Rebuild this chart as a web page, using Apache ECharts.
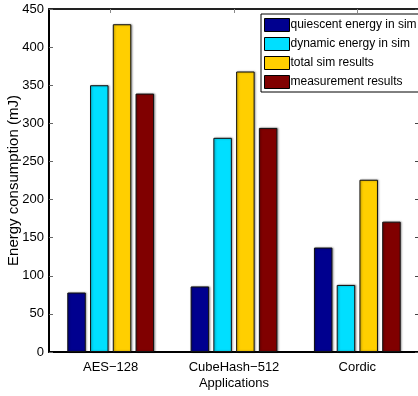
<!DOCTYPE html>
<html><head><meta charset="utf-8">
<script src="https://cdn.jsdelivr.net/npm/echarts@6/dist/echarts.min.js"></script>
<style>html,body{margin:0;padding:0;background:#fff}#c{width:418px;height:396px}</style>
</head><body><div id="c"></div>
<script>
const categories = ['AES\u2212128', 'CubeHash\u2212512', 'Cordic'];
const seriesNames = ['quiescent energy in sim', 'dynamic energy in sim', 'total sim results', 'measurement results'];
const quiescent = [78, 86, 137];
const dynamic = [350, 281, 88];
const totalSim = [430, 368, 226];
const measured = [339, 294, 171];
const yTicks = [0, 50, 100, 150, 200, 250, 300, 350, 400, 450];

const colors = ['#00008F', '#00DFFF', '#FFCF00', '#800000'];
const values = [quiescent, dynamic, totalSim, measured];
const font = 'Liberation Sans, Arial, sans-serif';

const chart = echarts.init(document.getElementById('c'));
chart.setOption({
  animation: false,
  textStyle: {fontFamily: font},
  legend: {
    left: 261, top: 14, width: 156,
    orient: 'vertical',
    itemWidth: 25, itemHeight: 13, itemGap: 5,
    padding: [4, 2, 3, 3],
    borderColor: '#000', borderWidth: 1, backgroundColor: '#fff',
    icon: 'rect',
    itemStyle: {borderColor: '#000', borderWidth: 1, shadowBlur: 0, shadowOffsetX: 0},
    textStyle: {fontSize: 12, color: '#000', fontFamily: font, lineHeight: 13, padding: [0, 0, 0, -4]},
    data: seriesNames
  },
  grid: {left: 49, top: 9, width: 370, height: 343, outerBoundsMode: 'none', containLabel: false},
  xAxis: [{
    type: 'category', data: categories, position: 'bottom',
    axisLine: {onZero: false, lineStyle: {color: '#000', width: 2}},
    axisTick: {inside: true, alignWithLabel: true, length: 4, lineStyle: {color: '#888'}},
    axisLabel: {fontSize: 13, color: '#000', margin: 9, fontFamily: font},
    name: 'Applications', nameLocation: 'middle', nameGap: 25, nameMoveOverlap: false,
    nameTextStyle: {fontSize: 13, color: '#000', fontFamily: font}
  }, {
    type: 'category', data: categories, position: 'top',
    axisLine: {show: true, onZero: false, lineStyle: {color: '#222', width: 2}},
    axisTick: {show: true, inside: true, alignWithLabel: true, length: 4, lineStyle: {color: '#888'}},
    axisLabel: {show: false}
  }],
  yAxis: [{
    type: 'value', min: 0, max: 450, interval: 50, position: 'left',
    axisLine: {show: true, onZero: false, lineStyle: {color: '#000', width: 2}},
    axisTick: {show: true, inside: true, length: 4, lineStyle: {color: '#666'}},
    splitLine: {show: false},
    axisLabel: {fontSize: 13, color: '#000', margin: 5, fontFamily: font,
      formatter: v => yTicks.includes(v) ? String(v) : ''},
    name: 'Energy consumption (mJ)', nameLocation: 'middle', nameGap: 28, nameMoveOverlap: false,
    nameTextStyle: {fontSize: 15, color: '#000', fontFamily: font}
  }, {
    type: 'value', min: 0, max: 450, interval: 50, position: 'right',
    axisLine: {show: true, onZero: false, lineStyle: {color: '#000', width: 2}},
    axisTick: {show: true, inside: true, length: 4, lineStyle: {color: '#444'}},
    splitLine: {show: false},
    axisLabel: {show: false}
  }],
  series: seriesNames.map((n, i) => ({
    name: n, type: 'bar', data: values[i],
    barWidth: 18.5, barGap: '23%',
    itemStyle: {color: colors[i], borderColor: '#111', borderWidth: 1,
      shadowColor: 'rgba(0,0,0,0.35)', shadowBlur: 2, shadowOffsetX: 1, shadowOffsetY: 0}
  }))
});
</script></body></html>
